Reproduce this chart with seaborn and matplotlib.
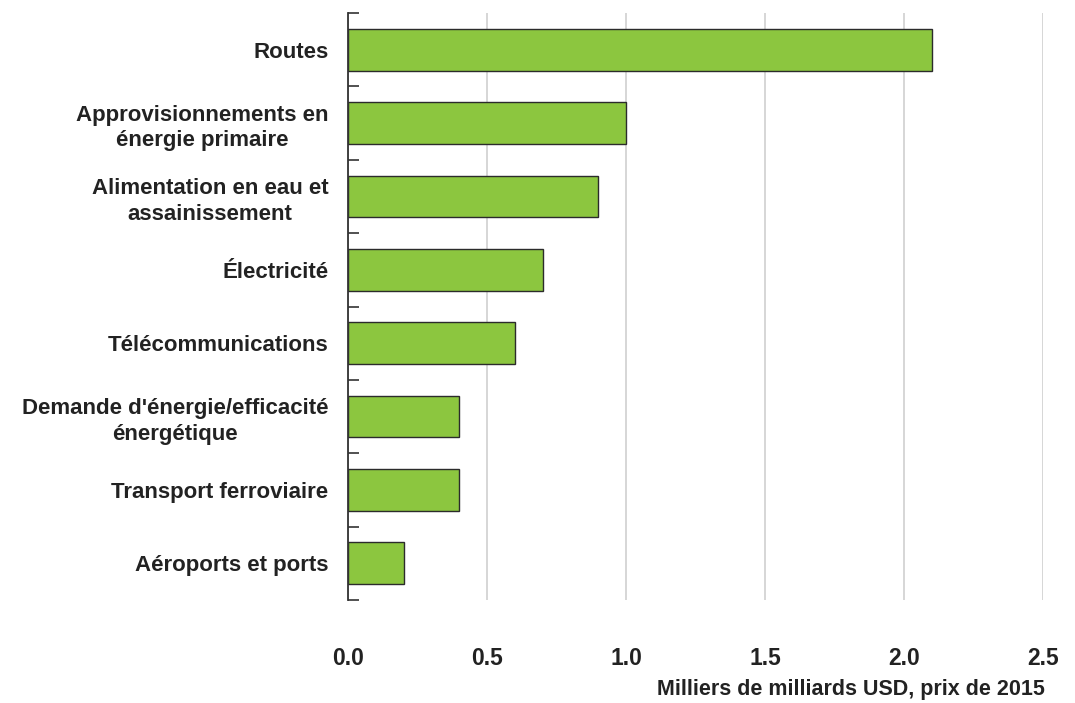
import matplotlib
matplotlib.use("Agg")
import matplotlib.pyplot as plt
import seaborn as sns
import pandas as pd
from matplotlib.ticker import FixedLocator

# Données
categories = [
    "Routes",
    "Approvisionnements en\nénergie primaire",
    "Alimentation en eau et\nassainissement",
    "Électricité",
    "Télécommunications",
    "Demande d'énergie/efficacité\nénergétique",
    "Transport ferroviaire",
    "Aéroports et ports",
]
valeurs = [2.1, 1.0, 0.9, 0.7, 0.6, 0.4, 0.4, 0.2]
xticks = [0.0, 0.5, 1.0, 1.5, 2.0, 2.5]

df = pd.DataFrame({"categorie": categories, "valeur": valeurs})

sns.set_style("white")
plt.rcParams["font.family"] = ["Liberation Sans Narrow", "Liberation Sans", "DejaVu Sans"]
plt.rcParams["font.weight"] = "bold"

fig = plt.figure(figsize=(10.75, 7.03), dpi=100)
ax = fig.add_axes([348 / 1075, 1 - 600 / 703, (1043 - 348) / 1075, (600 - 13) / 703])

sns.barplot(data=df, x="valeur", y="categorie", orient="h", color="#8CC63F",
            saturation=1, edgecolor="#2b2b2b", linewidth=1.0, width=0.57, ax=ax)

ax.set_xlim(0, 2.5)
ax.set_ylim(len(categories) - 0.5, -0.5)
ax.set_xticks(xticks)
ax.set_xticklabels([f"{t:.1f}" for t in xticks], fontsize=16.5, fontweight="bold", color="#222222")
ax.xaxis.grid(True, color="#d0d0d0", linewidth=1.2)
ax.set_axisbelow(True)
ax.tick_params(axis="x", length=0, pad=34)

# étiquettes des catégories
ax.set_yticks(range(len(categories)))
ax.set_yticklabels(categories, fontsize=16, fontweight="bold", color="#222222",
                   multialignment="center", linespacing=1.3)
ax.tick_params(axis="y", which="major", length=0, pad=14)
ax.yaxis.set_minor_locator(FixedLocator([i - 0.5 for i in range(len(categories) + 1)]))
ax.tick_params(axis="y", which="minor", left=True, length=8, width=1.2,
               direction="in", color="#333333")

for s in ["top", "right", "bottom"]:
    ax.spines[s].set_visible(False)
ax.spines["left"].set_color("#333333")
ax.spines["left"].set_linewidth(1.3)

ax.set_ylabel("")
ax.set_xlabel("")
fig.text(1045 / 1075, 1 - 690 / 703, "Milliers de milliards USD, prix de 2015",
         ha="right", va="center", fontsize=15.5, fontweight="bold", color="#222222")

fig.savefig("out.png", dpi=100)
